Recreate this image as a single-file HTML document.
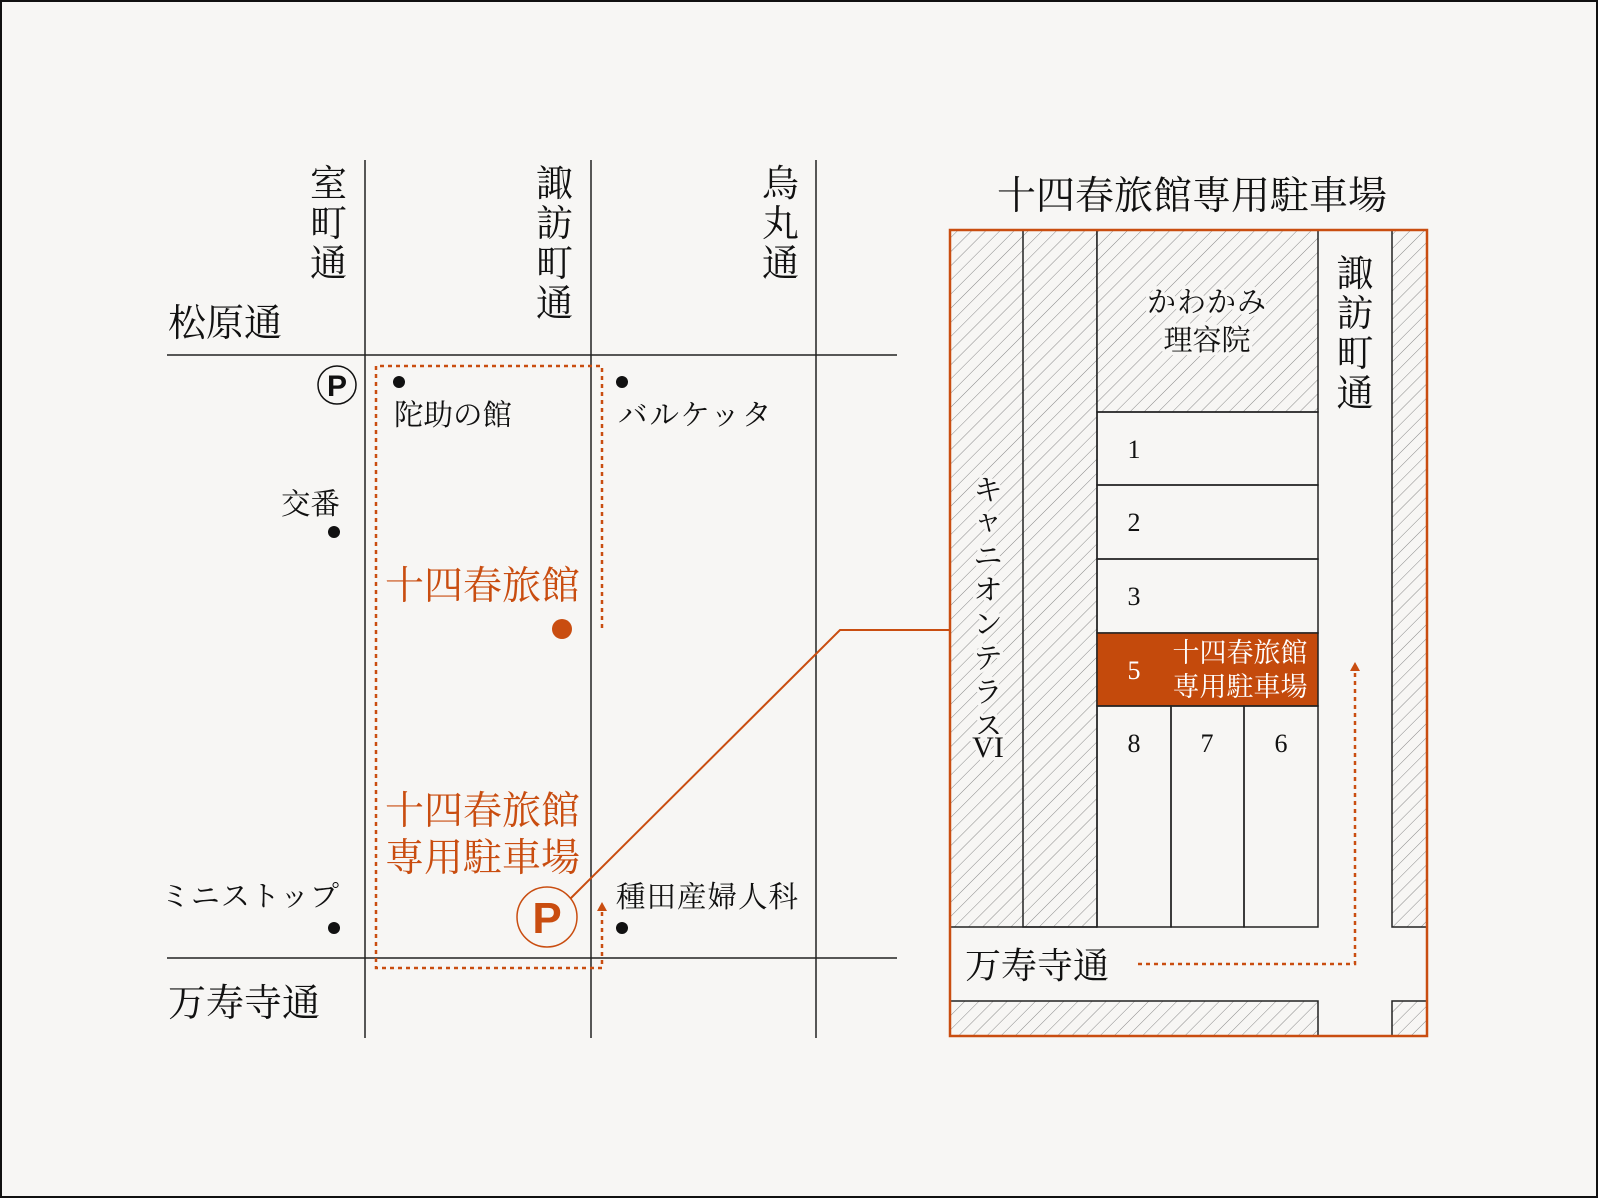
<!DOCTYPE html>
<html><head><meta charset="utf-8"><style>
html,body{margin:0;padding:0;background:#f7f6f4}
svg{display:block}
text{font-family:"Liberation Serif","Noto Serif CJK SC","Noto Serif CJK JP",serif;fill:#111}
.o{fill:#c94d10}
.halo{paint-order:stroke;stroke:#f7f6f4;stroke-width:7px;stroke-linejoin:round}
</style></head><body>
<svg width="1598" height="1198" viewBox="0 0 1598 1198" xmlns="http://www.w3.org/2000/svg">
<defs>
<pattern id="h" width="10" height="10" patternUnits="userSpaceOnUse" patternTransform="rotate(45)">
<rect width="10" height="10" fill="#f7f6f4"/>
<line x1="0" y1="0" x2="0" y2="10" stroke="#8a8a8a" stroke-width="1"/>
</pattern>
</defs>
<rect x="1" y="1" width="1596" height="1196" fill="#f7f6f4" stroke="#111" stroke-width="2"/>

<g stroke="#222" stroke-width="1.5">
<line x1="365" y1="160" x2="365" y2="1038"/>
<line x1="591" y1="160" x2="591" y2="1038"/>
<line x1="816" y1="160" x2="816" y2="1038"/>
<line x1="167" y1="355" x2="897" y2="355"/>
<line x1="167" y1="958" x2="897" y2="958"/>
</g>
<g fill="none" stroke="#c94d10" stroke-width="2.5" stroke-dasharray="4 4">
<polyline points="602,628 602,366 376,366 376,968 602,968 602,912"/>
</g>
<polygon points="602,902 597,911 607,911" fill="#c94d10"/>

<g font-size="37">
<text x="310" y="196">室</text><text x="310" y="236">町</text><text x="310" y="276">通</text>
<text x="536" y="196">諏</text><text x="536" y="236">訪</text><text x="536" y="276">町</text><text x="536" y="316">通</text>
<text x="762" y="196">烏</text><text x="762" y="236">丸</text><text x="762" y="276">通</text>
<text x="168" y="336" font-size="38">松原通</text>
<text x="168" y="1016" font-size="38">万寿寺通</text>
</g>

<circle cx="337" cy="385" r="19" fill="none" stroke="#111" stroke-width="1.5"/>
<text x="337" y="396" font-size="30" font-weight="bold" text-anchor="middle" style="font-family:'Liberation Sans',sans-serif">P</text>
<circle cx="399" cy="382" r="6" fill="#111"/>
<text x="394" y="425" font-size="29.5">陀助の館</text>
<text x="340" y="514" font-size="29.5" text-anchor="end">交番</text>
<circle cx="334" cy="532" r="6" fill="#111"/>
<circle cx="622" cy="382" r="6" fill="#111"/>
<text x="618" y="425" font-size="29.5" letter-spacing="2">バルケッタ</text>
<text x="385" y="599" font-size="39" class="o">十四春旅館</text>
<circle cx="562" cy="629" r="10" fill="#c94d10"/>
<text x="385" y="824" font-size="39" class="o">十四春旅館</text>
<text x="385" y="871" font-size="39" class="o">専用駐車場</text>
<text x="340" y="906" font-size="29" text-anchor="end" letter-spacing="1">ミニストップ</text>
<circle cx="334" cy="928" r="6" fill="#111"/>
<text x="616" y="907" font-size="29.5" letter-spacing="1">種田産婦人科</text>
<circle cx="622" cy="928" r="6" fill="#111"/>

<polyline points="570,899 840,630 950,630" fill="none" stroke="#c94d10" stroke-width="2"/>
<circle cx="547" cy="917" r="30" fill="#f7f6f4" stroke="#c94d10" stroke-width="1.5"/>
<text x="547" y="933" font-size="44" font-weight="bold" text-anchor="middle" class="o" style="font-family:'Liberation Sans',sans-serif">P</text>

<text x="1192" y="209" font-size="39" text-anchor="middle">十四春旅館専用駐車場</text>
<g stroke="#222" stroke-width="1.5">
<rect x="950" y="230" width="73" height="697" fill="url(#h)" stroke="none"/>
<rect x="1023" y="230" width="74" height="697" fill="url(#h)"/>
<rect x="1097" y="230" width="221" height="182" fill="url(#h)"/>
<rect x="1392" y="230" width="35" height="697" fill="url(#h)"/>
<rect x="950" y="1001" width="368" height="35" fill="url(#h)"/>
<rect x="1392" y="1001" width="35" height="35" fill="url(#h)"/>
<line x1="950" y1="927" x2="1097" y2="927"/>
<rect x="1097" y="412" width="221" height="73" fill="none"/>
<rect x="1097" y="485" width="221" height="74" fill="none"/>
<rect x="1097" y="559" width="221" height="74" fill="none"/>
<rect x="1097" y="633" width="221" height="73" fill="#c44a0c"/>
<rect x="1097" y="706" width="74" height="221" fill="none"/>
<rect x="1171" y="706" width="73" height="221" fill="none"/>
<rect x="1244" y="706" width="74" height="221" fill="none"/>
</g>
<rect x="950" y="230" width="477" height="806" fill="none" stroke="#c94d10" stroke-width="2.5"/>

<text x="1207" y="312" font-size="29" text-anchor="middle" class="halo" letter-spacing="1">かわかみ</text>
<text x="1207" y="350" font-size="29" text-anchor="middle" class="halo">理容院</text>
<g font-size="26" text-anchor="middle">
<text x="1134" y="458">1</text>
<text x="1134" y="531">2</text>
<text x="1134" y="605">3</text>
<text x="1134" y="679" style="fill:#fff">5</text>
<text x="1134" y="752">8</text>
<text x="1207" y="752">7</text>
<text x="1281" y="752">6</text>
</g>
<text x="1240" y="662" font-size="27" text-anchor="middle" style="fill:#fff">十四春旅館</text>
<text x="1240" y="696" font-size="27" text-anchor="middle" style="fill:#fff">専用駐車場</text>
<g font-size="37" text-anchor="middle">
<text x="1355" y="286">諏</text><text x="1355" y="326">訪</text><text x="1355" y="366">町</text><text x="1355" y="406">通</text>
</g>
<g font-size="29" text-anchor="middle" class="halo">
<text x="988" y="500">キ</text>
<text x="988" y="530">ャ</text>
<text x="988" y="566">ニ</text>
<text x="988" y="600">オ</text>
<text x="988" y="634">ン</text>
<text x="988" y="668">テ</text>
<text x="988" y="702">ラ</text>
<text x="988" y="736">ス</text>
<text x="988" y="757" font-size="30">VI</text>
</g>
<text x="965" y="978" font-size="36">万寿寺通</text>
<polyline points="1138,964 1355,964 1355,672" fill="none" stroke="#c94d10" stroke-width="2.5" stroke-dasharray="4 4"/>
<polygon points="1355,662 1350,671 1360,671" fill="#c94d10"/>
</svg>
</body></html>
